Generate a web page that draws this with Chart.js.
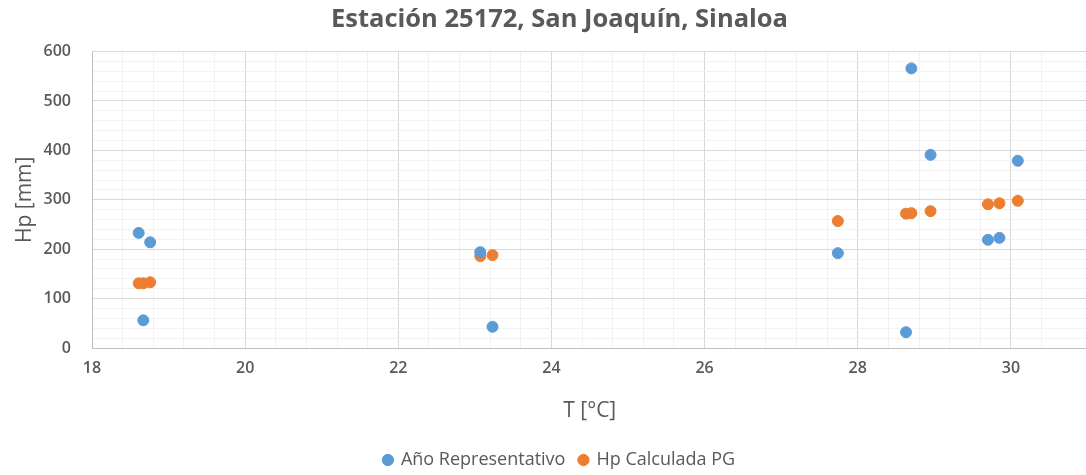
<!DOCTYPE html>
<html>
<head>
<meta charset="utf-8">
<script src="https://cdn.jsdelivr.net/npm/chart.js@4/dist/chart.umd.min.js"></script>
<style>
  html, body { margin: 0; padding: 0; background: #fff; overflow: hidden; }
  #wrap { width: 1086px; height: 475px; overflow: hidden; }
</style>
</head>
<body>
<div id="wrap"><canvas id="myChart" width="1094" height="475"></canvas></div>
<script>
// Datos
const temperatura = [18.61, 18.67, 18.76, 23.07, 23.23, 27.74, 28.63, 28.70, 28.95, 29.70, 29.85, 30.09];
const anoRepresentativo = [233, 56, 214, 194, 43, 192, 32, 566, 391, 219, 223, 379];
const hpCalculada = [131, 131, 133, 186, 188, 257, 272, 273, 277, 291, 293, 298];

const xTicks = [18, 20, 22, 24, 26, 28, 30];
const yTicks = [0, 100, 200, 300, 400, 500, 600];

const GRIS = '#595959';
const FUENTE = '"Open Sans", Lato, sans-serif';

// Saber si un valor es una marca principal
const esMayor = (v, lista) => lista.some(t => Math.abs(t - v) < 1e-6);

const puntos = (ys) => temperatura.map((x, i) => ({ x, y: ys[i] }));

new Chart("myChart", {
    type: "scatter",
    data: {
        datasets: [{
            label: "Año Representativo",
            data: puntos(anoRepresentativo),
            backgroundColor: "#5B9BD5",
            borderColor: "#5B9BD5",
            pointRadius: 5.5,
            pointHoverRadius: 5.5,
        },
        {
            label: "Hp Calculada PG",
            data: puntos(hpCalculada),
            backgroundColor: "#ED7D31",
            borderColor: "#ED7D31",
            pointRadius: 5.5,
            pointHoverRadius: 5.5,
        }],
    },
    options: {
        responsive: false,
        animation: false,
        layout: { padding: { left: 8, right: -17, top: 0, bottom: -4 } },
        scales: {
            x: {
                type: 'linear',
                min: 18,
                max: 31,
                ticks: {
                    stepSize: 0.4,
                    autoSkip: false,
                    maxRotation: 0,
                    color: GRIS,
                    padding: 11,
                    font: { family: FUENTE, size: 16, weight: '600' },
                    callback: (v) => esMayor(v, xTicks) ? Math.round(v) : '',
                },
                grid: {
                    color: (ctx) => esMayor(ctx.tick.value, xTicks) ? '#D9D9D9' : '#F2F2F2',
                    drawTicks: false,
                },
                border: { color: '#BFBFBF' },
                title: {
                    display: true,
                    text: 'T [°C]',
                    color: GRIS,
                    font: { family: FUENTE, size: 21 },
                    padding: { top: 8, bottom: 13 },
                },
                // el eje continúa un poco más allá del borde derecho
                afterFit: (scale) => { scale.height = 89; scale.paddingRight = -2; },
            },
            y: {
                min: 0,
                max: 600,
                ticks: {
                    stepSize: 20,
                    autoSkip: false,
                    color: GRIS,
                    padding: 21,
                    font: { family: FUENTE, size: 16, weight: '600' },
                    callback: (v) => esMayor(v, yTicks) ? v : '',
                },
                grid: {
                    color: (ctx) => esMayor(ctx.tick.value, yTicks) ? '#D9D9D9' : '#F2F2F2',
                    drawTicks: false,
                },
                border: { color: '#BFBFBF' },
                title: {
                    display: true,
                    text: 'Hp [mm]',
                    color: GRIS,
                    font: { family: FUENTE, size: 21 },
                    padding: { bottom: 6 },
                },
                afterFit: (scale) => { scale.width = 84; },
            },
        },
        plugins: {
            title: {
                display: true,
                text: 'Estación 25172, San Joaquín, Sinaloa',
                color: GRIS,
                font: { family: FUENTE, size: 25.5, weight: 'bold' },
                padding: { top: 4, bottom: 17 },
            },
            legend: {
                display: true,
                position: 'bottom',
                labels: {
                    usePointStyle: true,
                    pointStyle: 'circle',
                    boxWidth: 8,
                    boxHeight: 8,
                    color: GRIS,
                    padding: 14,
                    font: { family: FUENTE, size: 18 },
                },
            },
            tooltip: { enabled: false },
        },
    },
});
</script>
</body>
</html>
